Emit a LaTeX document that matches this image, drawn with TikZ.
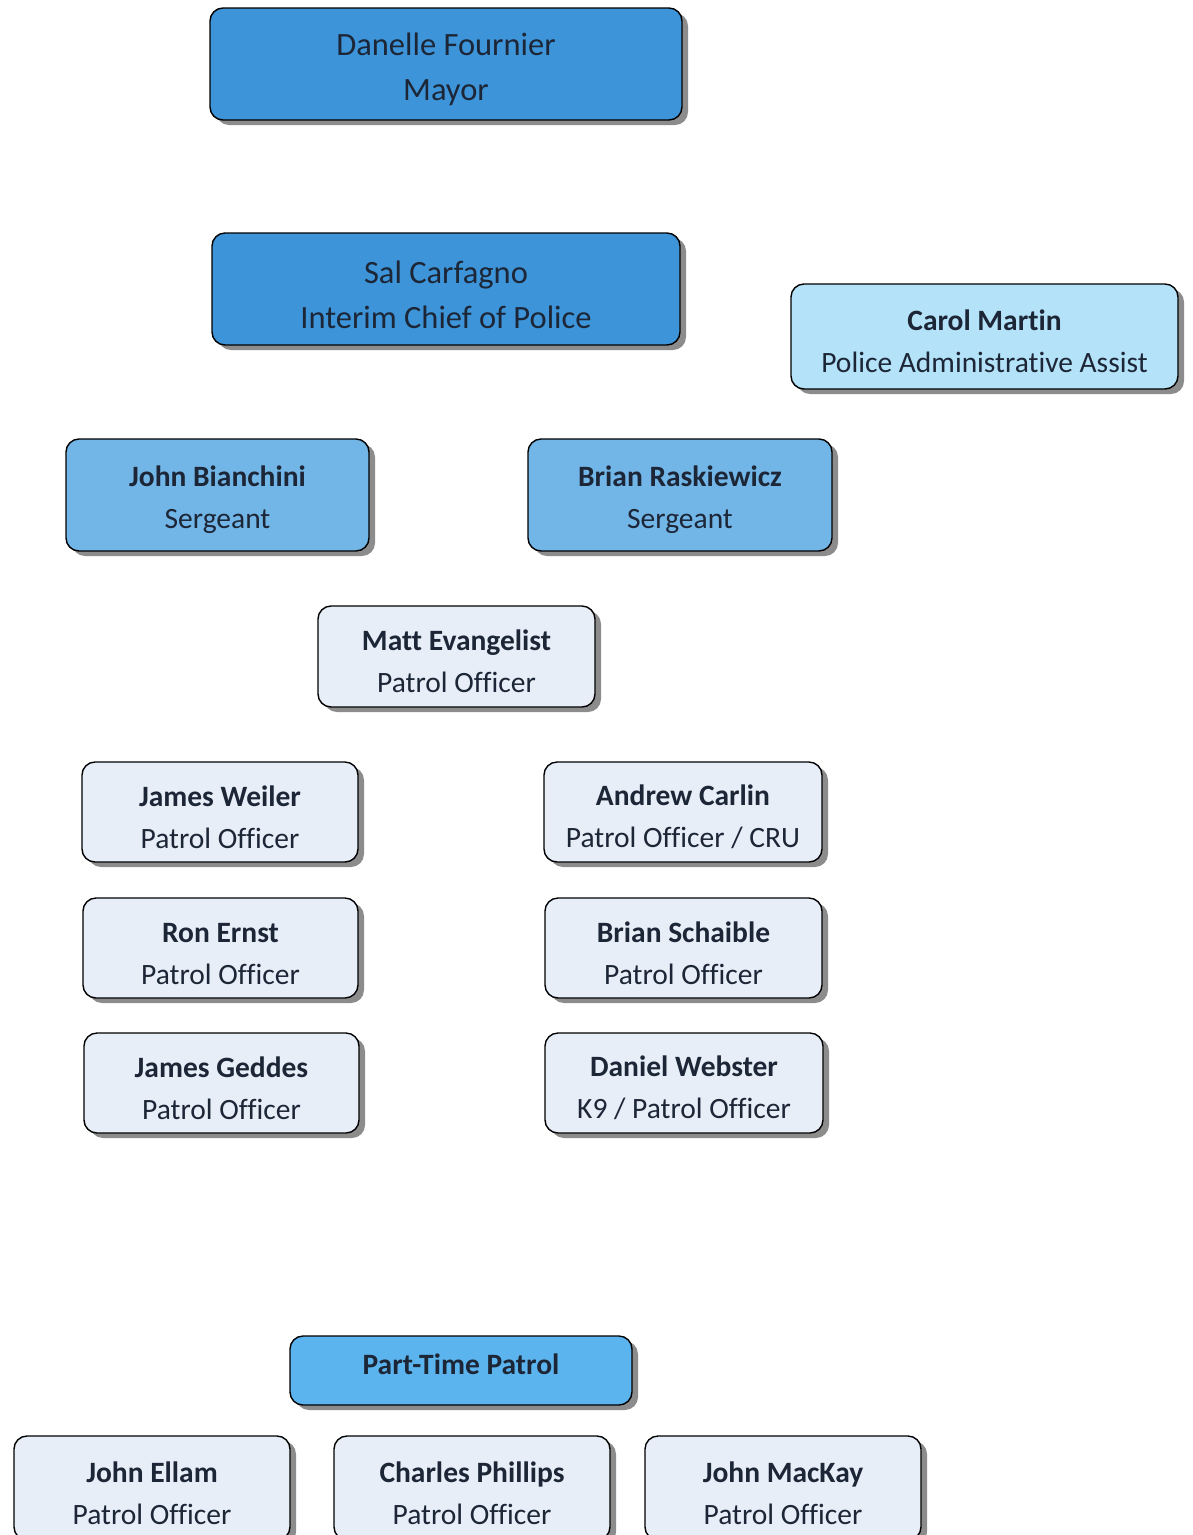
\documentclass[tikz,border=0pt]{standalone}
\usepackage{fontspec}
\setmainfont{Carlito}[Ligatures=CommonOff]
\usetikzlibrary{shadows}
\definecolor{topblue}{HTML}{3D94D8}
\definecolor{sgtblue}{HTML}{72B5E7}
\definecolor{ptblue}{HTML}{5CB4EE}
\definecolor{asstblue}{HTML}{B4E2F8}
\definecolor{offblue}{HTML}{E7EEF8}
\definecolor{ink}{HTML}{1C2636}
\tikzset{
  card/.style={draw=black, line width=1.4pt, rounded corners=13pt, align=center, inner sep=0pt,
    text=ink, font=\fontsize{29.5}{42}\selectfont,
    drop shadow={shadow xshift=6pt, shadow yshift=-5pt, fill=black!45, opacity=1}},
  topcard/.style={card, fill=topblue, font=\fontsize{32.5}{45}\selectfont},
  sgtcard/.style={card, fill=sgtblue},
  ptcard/.style={card, fill=ptblue},
  asstcard/.style={card, fill=asstblue},
  offcard/.style={card, fill=offblue},
}
\newcommand{\lowerby}{\rule{0pt}{1.04em}}
\newcommand{\raiseby}{\rule[-0.45em]{0pt}{0pt}}
\begin{document}
\begin{tikzpicture}[x=1pt,y=-1pt]
\useasboundingbox[fill=white] (0,0) rectangle (1193,1535);
\node[topcard, minimum width=472pt, minimum height=112pt] (mayor) at (446,64) {\lowerby Danelle Fournier\\Mayor};
\node[topcard, minimum width=468pt, minimum height=112pt] (chief) at (446,289) {\lowerby Sal Carfagno\\Interim Chief of Police};
\node[asstcard, minimum width=387pt, minimum height=105pt] (martin) at (984.5,336.5) {\lowerby\textbf{Carol Martin}\\Police Administrative Assist};
\node[sgtcard, minimum width=303pt, minimum height=112pt] (bianchini) at (217.5,495) {\lowerby\textbf{John Bianchini}\\Sergeant};
\node[sgtcard, minimum width=304pt, minimum height=112pt] (raskiewicz) at (680,495) {\lowerby\textbf{Brian Raskiewicz}\\Sergeant};
\node[offcard, minimum width=277pt, minimum height=101pt] (evangelist) at (456.5,656.5) {\lowerby\textbf{Matt Evangelist}\\Patrol Officer};
\node[offcard, minimum width=276pt, minimum height=100pt] (weiler) at (220,812) {\lowerby\textbf{James Weiler}\\Patrol Officer};
\node[offcard, minimum width=278pt, minimum height=100pt] (carlin) at (683,812) {\lowerby\textbf{Andrew Carlin}\\Patrol Officer / CRU};
\node[offcard, minimum width=275pt, minimum height=100pt] (ernst) at (220.5,948) {\lowerby\textbf{Ron Ernst}\\Patrol Officer};
\node[offcard, minimum width=277pt, minimum height=100pt] (schaible) at (683.5,948) {\lowerby\textbf{Brian Schaible}\\Patrol Officer};
\node[offcard, minimum width=275pt, minimum height=100pt] (geddes) at (221.5,1083) {\lowerby\textbf{James Geddes}\\Patrol Officer};
\node[offcard, minimum width=278pt, minimum height=100pt] (webster) at (684,1083) {\lowerby\textbf{Daniel Webster}\\K9 / Patrol Officer};
\node[ptcard, minimum width=342pt, minimum height=69pt] (parttime) at (461,1370.5) {\textbf{Part-Time Patrol}\raiseby};
\node[offcard, minimum width=276pt, minimum height=104pt] (ellam) at (152,1488) {\lowerby\textbf{John Ellam}\\Patrol Officer};
\node[offcard, minimum width=276pt, minimum height=104pt] (phillips) at (472,1488) {\lowerby\textbf{Charles Phillips}\\Patrol Officer};
\node[offcard, minimum width=276pt, minimum height=104pt] (mackay) at (783,1488) {\lowerby\textbf{John MacKay}\\Patrol Officer};
\end{tikzpicture}
\end{document}
